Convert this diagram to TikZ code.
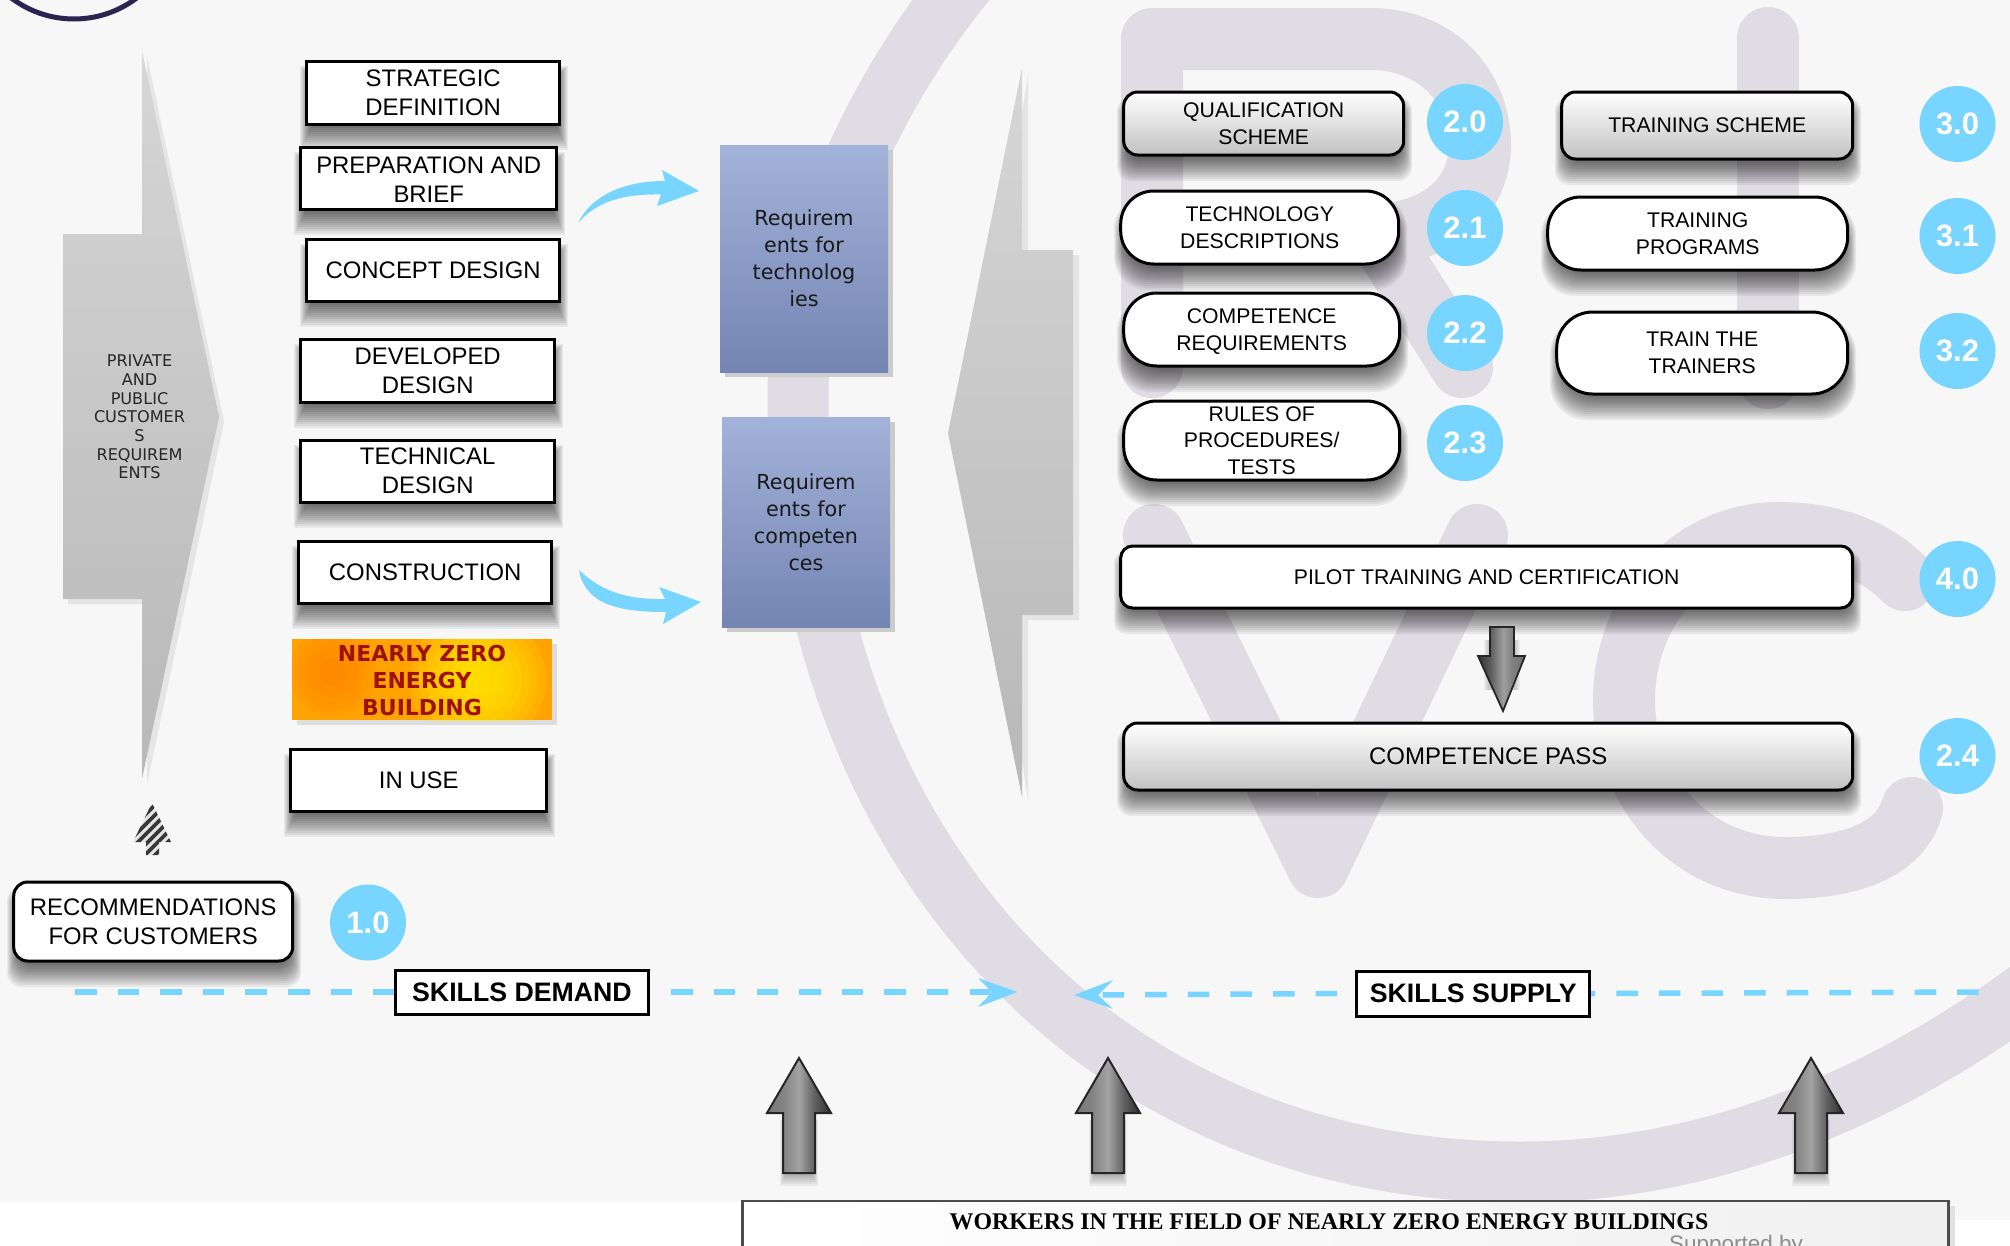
\documentclass[tikz,border=0pt]{standalone}
\usepackage{fontspec}
\setmainfont{Liberation Sans}
\newfontfamily\dejavu{DejaVu Sans}
\newfontfamily\lserif{Liberation Serif}
\usetikzlibrary{shadings}
\definecolor{bgc}{HTML}{F7F7F7}
\definecolor{wmark}{HTML}{DFDCE3}
\definecolor{sky}{HTML}{78D5FF}
\definecolor{nzred}{HTML}{A01000}
\definecolor{nzorange}{HTML}{FFA300}
\definecolor{nzdeep}{HTML}{FF7F00}
\definecolor{nzyellow}{HTML}{FFF000}
\definecolor{ringdark}{HTML}{2D2350}
\definecolor{reqtop}{HTML}{A2B2D8}
\definecolor{reqbot}{HTML}{7585B3}
\pgfdeclarehorizontalshading{blockup}{100bp}{
  rgb(0bp)=(0.46,0.46,0.46);
  rgb(25bp)=(0.46,0.46,0.46);
  rgb(38bp)=(0.52,0.52,0.52);
  rgb(50bp)=(0.64,0.64,0.64);
  rgb(62bp)=(0.38,0.38,0.38);
  rgb(75bp)=(0.18,0.18,0.18);
  rgb(100bp)=(0.18,0.18,0.18)}
\pgfdeclarehorizontalshading{blockdown}{100bp}{
  rgb(0bp)=(0.2,0.2,0.2);
  rgb(25bp)=(0.2,0.2,0.2);
  rgb(38bp)=(0.36,0.36,0.36);
  rgb(52bp)=(0.62,0.62,0.62);
  rgb(62bp)=(0.5,0.5,0.5);
  rgb(75bp)=(0.44,0.44,0.44);
  rgb(100bp)=(0.44,0.44,0.44)}
\tikzset{
  plainbox/.style={draw=black,line width=3pt,fill=white,align=center,inner sep=0pt,font=\fontsize{23.9}{29}\selectfont},
  roundbox/.style={draw=black,line width=3pt,fill=white,align=center,inner sep=0pt,font=\fontsize{21.2}{26.5}\selectfont},
  steelbox/.style={roundbox,top color=white,bottom color=black!24},
  badge/.style={circle,fill=sky,text=white,inner sep=0pt,minimum size=76pt,font=\fontsize{31}{31}\selectfont\bfseries},
  reqbox/.style={top color=reqtop,bottom color=reqbot,align=center,inner sep=0pt,text=black!90,font=\dejavu\fontsize{20.7}{27}\selectfont},
  tagbox/.style={draw=black,line width=3pt,fill=white,inner sep=0pt,font=\fontsize{26.7}{27}\selectfont\bfseries},
  skydash/.style={draw=sky,line width=5.5pt,dash pattern=on 21.5pt off 21.1pt},
  bigarrow/.style={top color=black!16,bottom color=black!28},
  blockarrow/.style={draw=black!85,line width=2pt,line join=miter,shading=blockup},
  markline/.style={draw=wmark,line width=62pt,line cap=round,line join=round},
}
\newcommand{\softshadow}[5]{%
  \foreach \s in {0,...,11}{\fill[black,opacity=0.06,rounded corners=#5pt] (#1-7+\s,#2+6+\s) rectangle (#3+7-\s,#4+25-2*\s);}}
\newcommand{\bx}[7]{%
  \pgfmathsetmacro\bxcx{(#2+#4)/2-0.8}\pgfmathsetmacro\bxcy{(#3+#5)/2}%
  \pgfmathsetmacro\bxw{#4-#2-1}\pgfmathsetmacro\bxh{#5-#3-2}%
  \node[#6,minimum width=\bxw pt,minimum height=\bxh pt] (#1) at (\bxcx,\bxcy) {#7};}
\newcommand{\upblock}[1]{%
  \foreach \s in {0,...,5}{\fill[black,opacity=0.05] (#1-19+\s,1120) rectangle (#1+19-\s,1186-2*\s);}
  \path[blockarrow] (#1,1058) -- (#1+32,1113) -- (#1+16,1113) -- (#1+16,1173) -- (#1-16,1173) -- (#1-16,1113) -- (#1-32,1113) -- cycle;}
\begin{document}
\begin{tikzpicture}[x=1pt,y=-1pt]
\useasboundingbox (0,0) rectangle (2010,1245);
% page
\fill[white] (0,0) rectangle (2010,1245);
\fill[bgc] (0,0) rectangle (2010,1202);
\fill[bgc] (742,1202) rectangle (2010,1220);
% watermark
\draw[markline,line cap=butt,line width=61pt] (975,-30) .. controls (880,80) and (798,250) .. (798,395) .. controls (798,830) and (1085,1172) .. (1520,1172) .. controls (1720,1172) and (1900,1090) .. (2050,975);
\draw[markline] (1152,367) -- (1152,39) -- (1370,39) .. controls (1440,39) and (1480,90) .. (1480,145) .. controls (1480,195) and (1440,235) .. (1370,235) -- (1152,235);
\draw[markline] (1385,245) -- (1462,367);
\draw[markline] (1768,38) -- (1768,378);
\draw[markline] (1154,535) -- (1318,867) -- (1477,535);
\draw[markline] (1905,580) .. controls (1870,545) and (1825,533) .. (1778,533) .. controls (1690,533) and (1624,610) .. (1624,700) .. controls (1624,790) and (1690,868) .. (1785,868) .. controls (1850,868) and (1900,850) .. (1912,808);
% partial ring top left
\draw[ringdark,line width=5pt] (74,-85) circle (104);
% big arrows
\fill[black!10] (147,56) -- (224,422) -- (147,784) -- (147,604) -- (68,604) -- (68,239) -- (147,239) -- cycle;
\path[bigarrow] (142,51) -- (219,417) -- (142,779) -- (142,599) -- (63,599) -- (63,234) -- (142,234) -- cycle;
\node[align=center,inner sep=0pt,text=black!85,font=\dejavu\fontsize{16.1}{18.7}\selectfont] (customers) at (139.5,417) {PRIVATE\\AND\\PUBLIC\\CUSTOMER\\S\\REQUIREM\\ENTS};
\fill[black!10] (1028,74) -- (1028,255) -- (1079,255) -- (1079,620) -- (1028,620) -- (1028,800) -- (1000,620) -- (1000,255) -- cycle;
\path[bigarrow] (1022,68) -- (948,433) -- (1022,797) -- (1022,615) -- (1073,615) -- (1073,250) -- (1022,250) -- cycle;
% stage boxes
\softshadow{307}{60}{561}{125}{0}
\softshadow{301}{146}{558}{210}{0}
\softshadow{307}{238}{561}{302}{0}
\softshadow{301}{338}{556}{403}{0}
\softshadow{301}{439}{556}{503}{0}
\softshadow{299}{540}{553}{604}{0}
\softshadow{291}{748}{548}{812}{0}
\softshadow{14}{881}{294}{962}{14}
\bx{s1}{307}{60}{561}{125}{plainbox}{STRATEGIC\\DEFINITION}
\bx{s2}{301}{146}{558}{210}{plainbox}{\rule{0pt}{19pt}PREPARATION AND\\BRIEF}
\bx{s3}{307}{238}{561}{302}{plainbox}{CONCEPT DESIGN}
\bx{s4}{301}{338}{556}{403}{plainbox}{DEVELOPED\\DESIGN}
\bx{s5}{301}{439}{556}{503}{plainbox}{TECHNICAL\\DESIGN}
\bx{s6}{299}{540}{553}{604}{plainbox}{CONSTRUCTION}
% nearly zero box: orange ground with a deep-orange and a yellow glow
\fill[black,opacity=0.1] (297,644) rectangle (557,725);
\node[fill=nzorange,minimum width=260pt,minimum height=81pt,inner sep=0pt] (nzebground) at (422,679.5) {};
\begin{scope}
\clip (292,639) rectangle (552,720);
\foreach \r in {12,20,...,68}{\fill[nzyellow,opacity=0.17] (478,680) circle (\r);}
\foreach \r in {8,14,...,44}{\fill[nzdeep,opacity=0.14] (333,672) circle (\r);}
\end{scope}
\node[inner sep=0pt,align=center,text=nzred,font=\dejavu\fontsize{22}{27}\selectfont\bfseries] (nzeb) at (422,680.5) {NEARLY ZERO\\ENERGY\\BUILDING};
\bx{s8}{291}{748}{548}{812}{plainbox}{IN USE}
\bx{rec}{14}{881}{294}{962}{plainbox,rounded corners=14pt}{RECOMMENDATIONS\\FOR CUSTOMERS}
% striped arrow
\begin{scope}
\clip (152,803) -- (171,842) -- (159,842) -- (159,855) -- (146,855) -- (146,842) -- (133,842) -- cycle;
\fill[black!10] (130,800) rectangle (175,858);
\foreach \k in {0,10,...,80}{\draw[black!78,line width=3.8pt] (100+\k,860) -- (160+\k,800);}
\end{scope}
% curved blue arrows
\fill[sky] (578,223) .. controls (590,198) and (620,181) .. (665,181) -- (662,170) -- (699,191) -- (657,206) -- (661,194.5) .. controls (625,194) and (598,200) .. cycle;
\fill[sky] (579,570) .. controls (600,590) and (625,600) .. (665,599) -- (659,587) -- (701,602) -- (663,624) -- (666,612) .. controls (620,612) and (585,605) .. cycle;
% requirement boxes
\fill[black!20] (725,150) rectangle (893,377);
\fill[black!20] (727,422) rectangle (895,632);
\node[reqbox,minimum width=168pt,minimum height=227pt] (r1) at (804,258.5) {Requirem\\ents for\\technolog\\ies};
\node[reqbox,minimum width=168pt,minimum height=210pt] (r2) at (806,522) {Requirem\\ents for\\competen\\ces};
% right column
\softshadow{1124}{91}{1405}{156}{14}
\softshadow{1121}{190}{1400}{265}{33}
\softshadow{1124}{292}{1401}{367}{33}
\softshadow{1124}{400}{1401}{481}{33}
\softshadow{1562}{91}{1854}{160}{14}
\softshadow{1548}{196}{1849}{271}{33}
\softshadow{1557}{311}{1849}{395}{36}
\softshadow{1121}{545}{1854}{609}{12}
\softshadow{1124}{722}{1854}{791}{14}
\bx{q20}{1124}{91}{1405}{156}{steelbox,rounded corners=14pt}{QUALIFICATION\\SCHEME}
\bx{q21}{1121}{190}{1400}{265}{roundbox,rounded corners=33pt}{TECHNOLOGY\\DESCRIPTIONS}
\bx{q22}{1124}{292}{1401}{367}{roundbox,rounded corners=33pt}{\rule{0pt}{19pt}COMPETENCE\\REQUIREMENTS}
\bx{q23}{1124}{400}{1401}{481}{roundbox,rounded corners=33pt}{RULES OF\\PROCEDURES/\\TESTS}
\bx{q30}{1562}{91}{1854}{160}{steelbox,rounded corners=14pt}{TRAINING SCHEME}
\bx{q31}{1548}{196}{1849}{271}{roundbox,rounded corners=33pt}{TRAINING\\PROGRAMS}
\bx{q32}{1557}{311}{1849}{395}{roundbox,rounded corners=36pt}{TRAIN THE\\TRAINERS}
\bx{q40}{1121}{545}{1854}{609}{roundbox,rounded corners=12pt}{PILOT TRAINING AND CERTIFICATION}
\bx{q24}{1124}{722}{1854}{791}{steelbox,rounded corners=14pt,font=\fontsize{24}{29}\selectfont}{COMPETENCE PASS}
% badges
\node[badge] (b10) at (368,922.5) {1.0};
\node[badge] (b20) at (1465,122) {2.0};
\node[badge] (b21) at (1465,228) {2.1};
\node[badge] (b22) at (1465,333) {2.2};
\node[badge] (b23) at (1465,443) {2.3};
\node[badge] (b24) at (1957.5,756) {2.4};
\node[badge] (b30) at (1957.5,124) {3.0};
\node[badge] (b31) at (1957.5,236) {3.1};
\node[badge] (b32) at (1957.5,351) {3.2};
\node[badge] (b40) at (1957.5,579) {4.0};
% down arrow
\foreach \s in {0,...,4}{\fill[black,opacity=0.04] (1484+\s,640) rectangle (1520-\s,690);}
\path[blockarrow,shading=blockdown,line width=1.8pt] (1490,627) -- (1514,627) -- (1514,656) -- (1525,656) -- (1503,711) -- (1478,656) -- (1490,656) -- cycle;
% skills line
\bx{demand}{395.5}{969}{650}{1015}{tagbox}{SKILLS DEMAND}
\bx{supply}{1357}{970}{1591}{1017}{tagbox}{SKILLS SUPPLY}
\coordinate (demandstart) at (75,992);
\coordinate (demandend) at (992,992);
\coordinate (supplyend) at (1098,995);
\coordinate (supplyfar) at (1979,992);
\draw[skydash] (demandstart) -- (demand.west);
\draw[skydash,dash phase=21.5pt] (demand.east) -- (demandend);
\draw[skydash,dash phase=24.5pt] (supply.west) -- (supplyend);
\draw[skydash,dash phase=17.5pt] (supply.east) -- (supplyfar);
\fill[sky] (1017.5,992) -- (978,978) -- (992,992) -- (978,1007) -- cycle;
\fill[sky] (1074,995) -- (1113,980) -- (1098,995) -- (1113,1009) -- cycle;
% up arrows
\upblock{799}
\upblock{1108}
\upblock{1811}
% workers bar
\fill[black!12] (1949,1206) rectangle (1955,1260);
\node[draw=black!70,line width=2.5pt,minimum width=1206pt,minimum height=80pt,inner sep=0pt,left color=white,middle color=black!7,right color=black!6,shading angle=90] (barbox) at (1345.5,1241) {};
\node[inner sep=0pt,font=\lserif\fontsize{23.9}{26}\selectfont\bfseries] (workers) at (1329,1222) {WORKERS IN THE FIELD OF NEARLY ZERO ENERGY BUILDINGS};
\node[anchor=base,inner sep=0pt,text=black!45,font=\fontsize{22.5}{24}\selectfont] (support) at (1736,1251) {Supported by};
\end{tikzpicture}
\end{document}
